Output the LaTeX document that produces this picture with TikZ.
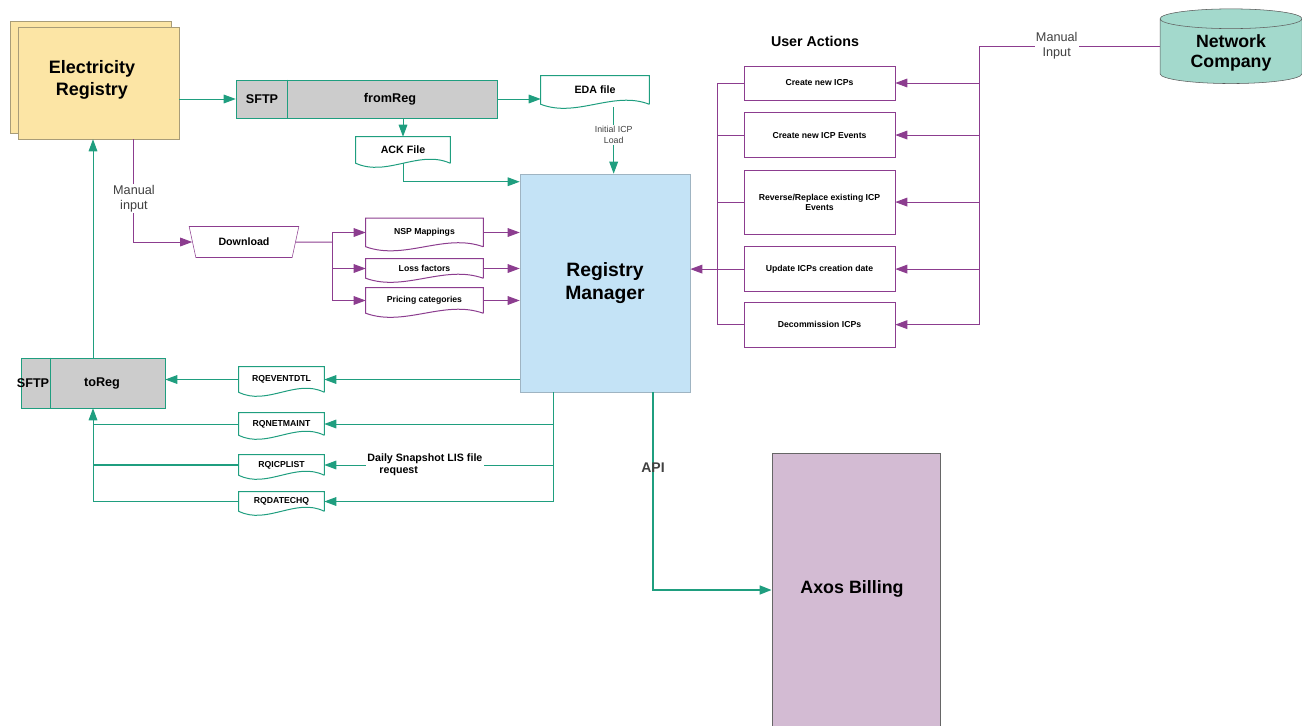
\documentclass[tikz,border=0pt]{standalone}
\usepackage{fontspec}
\setmainfont{Liberation Sans}
\usetikzlibrary{positioning,shapes.geometric,shadows,arrows.meta,calc}
\definecolor{tealline}{HTML}{1F9E7F}
\definecolor{purpline}{HTML}{8C3D8F}
\definecolor{regyellow}{HTML}{FCE5A5}
\definecolor{regline}{HTML}{A89C78}
\definecolor{rmblue}{HTML}{C4E3F6}
\definecolor{rmline}{HTML}{9FB4C2}
\definecolor{sftpgray}{HTML}{CCCCCC}
\definecolor{ncteal}{HTML}{A3D9CC}
\definecolor{axmauve}{HTML}{D3BBD3}
\begin{document}
\begin{tikzpicture}[x=0.75pt, y=-0.75pt, node distance=9pt, font=\bfseries,
  tl/.style={draw=tealline, line width=0.75pt},
  tla/.style={tl, -{Triangle[length=9pt,width=6.5pt]}},
  pl/.style={draw=purpline, line width=0.75pt},
  pla/.style={pl, -{Triangle[length=9pt,width=6.5pt]}},
  act/.style={draw=purpline, fill=white, minimum width=113.25pt, inner sep=2pt, align=center, font=\fontsize{6.5}{7.5}\selectfont\bfseries},
  doc/.style={minimum width=63.75pt, inner sep=2pt, font=\fontsize{6.5}{7.5}\selectfont\bfseries},
  gate/.style={draw=tealline, fill=sftpgray},
  gtext/.style={font=\fontsize{9.5}{11}\selectfont\bfseries},
  big/.style={align=center, font=\fontsize{13.5}{16}\selectfont\bfseries},
  lbl/.style={font=\fontsize{9.5}{11}\selectfont, text=black!75, fill=white, align=center, inner sep=1pt}]

\useasboundingbox (0,0) rectangle (1302,725);

\node[draw=regline, fill=regyellow, copy shadow={shadow xshift=-6pt, shadow yshift=4.5pt}, minimum width=120.75pt, minimum height=84pt] (er) at (98.5,83) {};
\node[big] (ert) at (92,80) {Electricity\\Registry};

\node[gate, minimum width=195.75pt, minimum height=28.5pt] (fromreg) at (366.5,99) {};
\node[gtext] (sftp1) at (262,99) {SFTP};
\node[gtext] (fr) at (390,99) {fromReg};
\draw[tl] ($(fromreg.north west)+(52,0)$) -- ($(fromreg.south west)+(52,0)$);

\node[doc, minimum width=81pt, minimum height=21pt, font=\fontsize{8}{9}\selectfont\bfseries] (eda) at (595,90) {EDA file};
\node[doc, minimum width=70.5pt, minimum height=19.5pt, font=\fontsize{8}{9}\selectfont\bfseries] (ack) at (403,150) {ACK File};

\node[draw=rmline, fill=rmblue, minimum width=127.5pt, minimum height=163.5pt, align=center, font=\fontsize{14.5}{17}\selectfont\bfseries] (rm) at (605,283) {Registry\\Manager};

\node[trapezium, shape border rotate=180, trapezium left angle=76, trapezium right angle=76, trapezium stretches=true, draw=purpline, minimum width=82.5pt, minimum height=23.25pt, font=\fontsize{8}{9}\selectfont\bfseries] (dl) at (244,242) {Download};

\node[doc, minimum width=87.75pt, minimum height=21pt] (nsp) at (424.5,232.5) {NSP Mappings};
\node[doc, minimum width=87.75pt, minimum height=14.25pt] (loss) at (424.5,268.5) {Loss factors};
\node[doc, minimum width=87.75pt, minimum height=18.75pt] (price) at (424.5,300.5) {Pricing categories};

\node[font=\fontsize{10.7}{12}\selectfont\bfseries] (ua) at (815,41) {User Actions};
\node[act, minimum height=25.5pt] (a1) at (819.5,83) {Create new ICPs};
\node[act, minimum height=33.75pt, below=of a1] (a2) {Create new ICP Events};
\node[act, minimum height=48pt, below=of a2] (a3) {Reverse/Replace existing ICP\\Events};
\node[act, minimum height=33.75pt, below=of a3] (a4) {Update ICPs creation date};
\node[act, minimum height=33.75pt, below=7.5pt of a4] (a5) {Decommission ICPs};

\node[cylinder, shape border rotate=90, aspect=0.22, draw=gray!70!black, cylinder uses custom fill, cylinder body fill=ncteal, cylinder end fill=ncteal, minimum width=106.5pt, minimum height=56pt, align=center, font=\fontsize{13.3}{15.5}\selectfont\bfseries] (nc) at (1231,53) {Network\\Company};

\node[gate, minimum width=108pt, minimum height=37.5pt] (toreg) at (93,383) {};
\node[gtext] (sftp2) at (33,383) {SFTP};
\node[gtext] (tr) at (102,383) {toReg};
\draw[tl] ($(toreg.north west)+(30,0)$) -- ($(toreg.south west)+(30,0)$);

\node[doc, minimum height=18.75pt] (q1) at (281.5,379.5) {RQEVENTDTL};
\node[doc, minimum height=16.5pt] (q2) at (281.5,424) {RQNETMAINT};
\node[doc, minimum height=15pt] (q3) at (281.5,465) {RQICPLIST};
\node[doc, minimum height=14.25pt] (q4) at (281.5,501.5) {RQDATECHQ};

\node[draw=gray!80!black, fill=axmauve, minimum width=126pt, minimum height=205.5pt] (ab) at (856,590) {};
\node[big, font=\fontsize{13.4}{16}\selectfont\bfseries] (abt) at (852,589) {Axos Billing};

\foreach \d/\c in {eda/tealline, ack/tealline, nsp/purpline, loss/purpline, price/purpline, q1/tealline, q2/tealline, q3/tealline, q4/tealline}
  \draw[\c, line width=0.75pt] (\d.south east) -- (\d.north east) -- (\d.north west) -- (\d.south west)
    .. controls ($(\d.south west)!0.33!(\d.south east)+(0,14)$) and ($(\d.south west)!0.67!(\d.south east)+(0,-14)$) .. (\d.south east);

\draw[tla] (er.east |- fromreg.west) -- (fromreg.west);
\draw[tla] (fromreg.east) -- (eda.west |- fromreg.east);
\draw[tla] (ack.north |- fromreg.south) -- (ack.north);
\draw[tla] (ack.south) |- ([yshift=-6pt]rm.north west);
\draw[tla] ([xshift=14pt,yshift=-2pt]eda.south) -- ([xshift=14pt]eda.south |- rm.north) node[pos=0.42, lbl, font=\fontsize{6.6}{7.8}\selectfont] {Initial ICP\\Load};

\draw[pla] ([xshift=26.6pt]er.south) |- (dl.west) node[pos=0.29, lbl] {Manual\\input};
\coordinate (dj) at (332,242);
\draw[pl] (dl.east) -- (dj);
\draw[pla] (dj) |- (nsp.west);
\draw[pla] (dj) |- (loss.west);
\draw[pla] (dj) |- (price.west);
\foreach \d in {nsp,loss,price}
  \draw[pla] (\d.east) -- (\d.east -| rm.west);

\coordinate (rb) at (979,46);
\draw[pl] (rb -| nc.west) -- node[pos=0.57, lbl] {Manual\\Input} (rb) -- (rb |- a5.east);
\foreach \a in {a1,a2,a3,a4,a5}
  \draw[pla] (rb |- \a.east) -- (\a.east);
\coordinate (lb) at (717,83);
\draw[pl] (a1.west) -- (lb) -- (lb |- a5.west) -- (a5.west);
\foreach \a in {a2,a3,a4}
  \draw[pl] (lb |- \a.west) -- (\a.west);
\draw[pla] (lb |- a4.west) -- (rm.east |- a4.west);

\draw[tla] (rm.west |- q1.east) -- (q1.east);
\draw[tla] (q1.west) -- (toreg.east |- q1.west);
\coordinate (bb) at (553,392);
\draw[tl] (bb) -- (bb |- q4.east);
\draw[tla] (bb |- q2.east) -- (q2.east);
\draw[tla] (bb |- q3.east) -- node[pos=0.56, lbl, align=left, font=\fontsize{8}{9}\selectfont\bfseries, text=black] {Daily Snapshot LIS file\\\hspace*{9pt}request} (q3.east);
\draw[tla] (bb |- q4.east) -- (q4.east);
\draw[tl] (q2.west) -- (q2.west -| toreg.south);
\draw[tl, line width=1.2pt] (q3.west) -- (q3.west -| toreg.south);
\draw[tla] (q4.west) -| (toreg.south);
\draw[tla] (toreg.north) -- (toreg.north |- er.south);
\draw[tla, line width=1.6pt] ([xshift=36pt]rm.south) |- (ab.west) node[pos=0.19, font=\fontsize{10.5}{12}\selectfont\bfseries, text=black!75] {API};
\end{tikzpicture}
\end{document}
